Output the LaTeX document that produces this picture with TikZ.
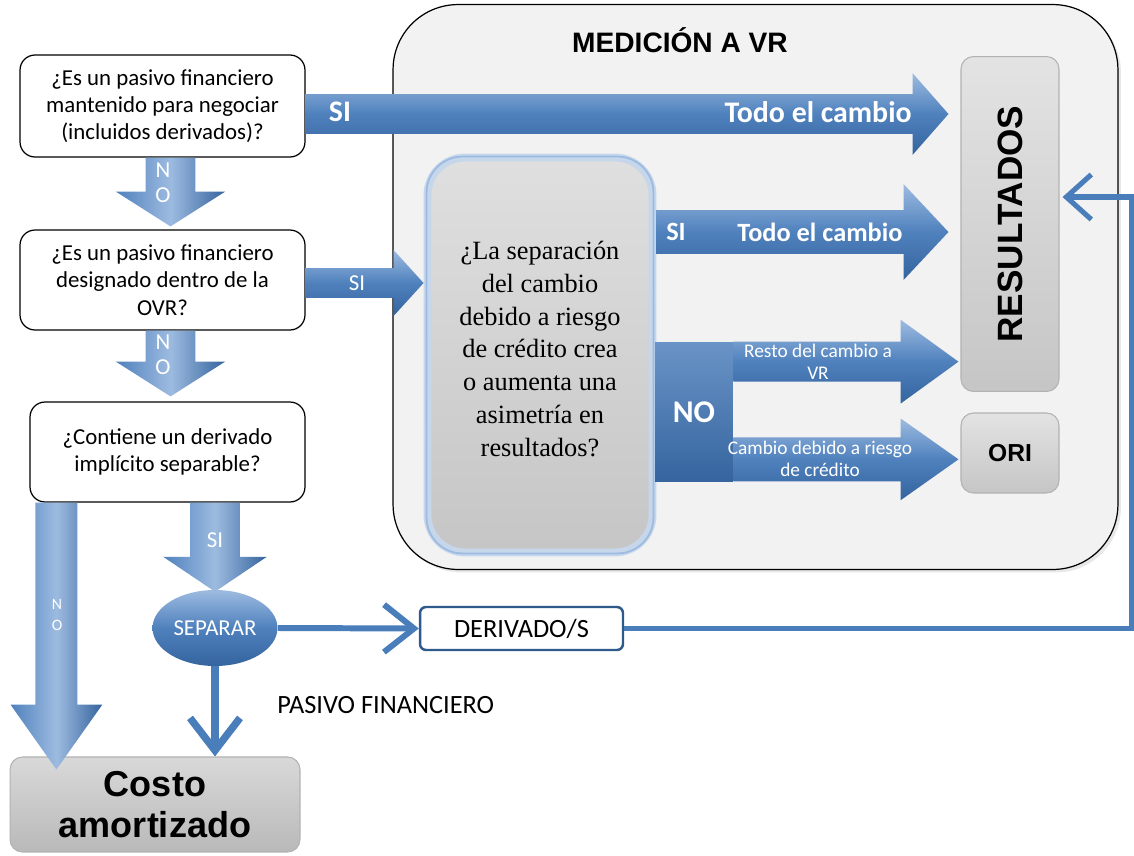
\documentclass[tikz,border=0pt]{standalone}
\usepackage{fontspec}
\setmainfont{Carlito}
\newfontfamily\arialf{Liberation Sans}
\newfontfamily\serifq{Liberation Serif}
\usetikzlibrary{arrows.meta,calc,shapes.geometric,shadows}

\definecolor{bMid}{HTML}{4F81BD}
\definecolor{bLight}{HTML}{9DBBE0}
\definecolor{bDark}{HTML}{35649E}
\definecolor{bLine}{HTML}{4A7EBB}
\definecolor{contFill}{HTML}{F2F2F2}
\definecolor{glowC}{HTML}{C6D7EC}
\definecolor{derBorder}{HTML}{2F5A8C}

\def\pxu{0.5669pt}

\tikzset{
  hshade/.style={top color=bLight, bottom color=bDark, middle color=bMid},
  vshade/.style={left color=bMid, right color=bDark, middle color=bLight},
  qbox/.style={draw=black, line width=0.7pt, fill=white, rounded corners=0.3cm,
    align=center, font=\fontsize{13}{15.5}\selectfont, inner sep=0pt},
  graybox/.style={draw=gray!60, line width=0.6pt, rounded corners=0.25cm,
    top color=gray!22, bottom color=gray!45, inner sep=0pt},
  wlabel/.style={text=white, font=\fontsize{13}{15}\selectfont, inner sep=0pt},
  wbold/.style={text=white, font=\bfseries\fontsize{17}{20}\selectfont, inner sep=0pt},
  wsmall/.style={text=white, font=\fontsize{11}{12.5}\selectfont, align=center, inner sep=0pt},
  chev/.style={draw=bLine, line width=3.4pt},
}

\newcommand{\HBlock}[5]{%
  \path[hshade] let \p1=(#1), \p2=(#2) in
    (\x1,\y1+#3*\pxu) -- (\x2-#5*\pxu,\y1+#3*\pxu) -- (\x2-#5*\pxu,\y1+#4*\pxu)
    -- (\x2,\y1) -- (\x2-#5*\pxu,\y1-#4*\pxu) -- (\x2-#5*\pxu,\y1-#3*\pxu)
    -- (\x1,\y1-#3*\pxu) -- cycle;}
\newcommand{\VBlock}[5]{%
  \path[vshade] let \p1=(#1), \p2=(#2) in
    (\x1-#3*\pxu,\y1) -- (\x1-#3*\pxu,\y2+#5*\pxu) -- (\x1-#4*\pxu,\y2+#5*\pxu)
    -- (\x1,\y2) -- (\x1+#4*\pxu,\y2+#5*\pxu) -- (\x1+#3*\pxu,\y2+#5*\pxu)
    -- (\x1+#3*\pxu,\y1) -- cycle;}

\begin{document}
\begin{tikzpicture}[x=0.02cm,y=-0.02cm]
\useasboundingbox[fill=white] (0,0) rectangle (1134,856);

% container
\node[draw=black, line width=0.7pt, fill=contFill, rounded corners=1.3cm,
  drop shadow={opacity=0.18, shadow xshift=0.06cm, shadow yshift=-0.06cm},
  minimum width=14.5cm, minimum height=11.3cm, inner sep=0pt] (cont) at (755.5,287) {};
\node[font=\arialf\bfseries\fontsize{16}{19}\selectfont, inner sep=0pt] (title) at (680,40) {MEDICIÓN A VR};

% left question boxes
\node[qbox, minimum width=5.7cm, minimum height=2.04cm] (b1) at (162.5,106)
  {¿Es un pasivo financiero\\mantenido para negociar\\(incluidos derivados)?};
\node[qbox, minimum width=5.7cm, minimum height=2.0cm] (b2) at (162.5,280)
  {¿Es un pasivo financiero\\designado dentro de la\\OVR?};
\node[qbox, minimum width=5.5cm, minimum height=2.0cm] (b3) at (167.5,452)
  {¿Contiene un derivado\\implícito separable?};

% central question
\node[draw=glowC, line width=4.5pt, rounded corners=0.75cm, minimum width=4.5cm, minimum height=7.9cm,
  top color=gray!25, bottom color=gray!45, inner sep=0pt] (q) at (540,355) {};
\draw[bLight, line width=1pt, rounded corners=0.72cm] ($(q.north west)+(3,3)$) rectangle ($(q.south east)+(-3,-3)$);
\node[font=\serifq\fontsize{15}{18.7}\selectfont, align=center, inner sep=0pt] (qt) at (540,349)
  {¿La separación\\del cambio\\debido a riesgo\\de crédito crea\\o aumenta una\\asimetría en\\resultados?};

% result boxes
\node[graybox, minimum width=1.96cm, minimum height=6.7cm] (res) at (1010,224) {};
\node[rotate=90, font=\arialf\bfseries\fontsize{20}{24}\selectfont, inner sep=0pt] (reslbl) at (res) {RESULTADOS};
\node[graybox, minimum width=1.96cm, minimum height=1.6cm, font=\arialf\bfseries\fontsize{14}{16}\selectfont] (ori) at (1010,453) {ORI};

% NO block
\node[top color=bMid!85!white, bottom color=bDark, minimum width=1.56cm, minimum height=2.8cm, inner sep=0pt] (nob) at (694,412) {};

% block arrows
\HBlock{$(b1.east)+(0,8)$}{$(res.west|-b1.east)+(-12,8)$}{20}{41}{36}
\HBlock{$(b2.east)+(0,3)$}{$(q.west|-b2.east)+(0,3)$}{15}{33}{30}
\HBlock{$(q.east)+(0,-123)$}{$(res.west)+(-12,9)$}{22}{48}{45}
\HBlock{$(nob.north east)+(0,20)$}{$(res.west|-nob.north east)+(-2,20)$}{20}{42}{58}
\HBlock{$(nob.south east)+(0,-23)$}{$(ori.west|-nob.south east)+(-2,-23)$}{22}{41}{58}
\VBlock{$(b1.south)+(8,0)$}{$(b2.north)+(8,-3)$}{25}{55}{35}
\VBlock{$(b2.south)+(8,0)$}{$(b3.north)+(3,-5)$}{25}{55}{35}

% NO text
\node[text=white, font=\bfseries\fontsize{18}{20}\selectfont, inner sep=0pt] (notext) at (nob) {NO};

% labels on arrows
\node[wbold] (si1) at (340,112) {SI};
\node[wbold, anchor=east] (todo1) at (912,112) {Todo el cambio};
\node[wlabel] (si2) at (357,283) {SI};
\node[wbold, font=\bfseries\fontsize{15}{18}\selectfont] (si3) at (676,232) {SI};
\node[wbold, font=\bfseries\fontsize{15}{18}\selectfont] (todo2) at (820,232) {Todo el cambio};
\node[wsmall] (resto) at (818,362) {Resto del cambio a\\VR};
\node[wsmall] (camb) at (820,459) {Cambio debido a riesgo\\de crédito};
\node[wlabel, align=center, font=\fontsize{13}{14}\selectfont] (no1) at (163,183) {N\\O};
\node[wlabel, align=center, font=\fontsize{13}{14}\selectfont] (no2) at (163,355) {N\\O};

% bottom section
\node[ellipse, minimum width=2.5cm, minimum height=1.52cm, inner sep=0pt,
  top color=bLight, bottom color=bDark, middle color=bMid,
  text=white, font=\fontsize{13}{15}\selectfont] (sep) at (215,628) {SEPARAR};
\node[draw=derBorder, line width=1.4pt, fill=white, rounded corners=0.12cm,
  minimum width=4.06cm, minimum height=0.86cm, inner sep=0pt,
  font=\fontsize{15}{18}\selectfont] (der) at (521.5,628.5) {DERIVADO/S};
\node[graybox, minimum width=5.8cm, minimum height=1.9cm, align=center,
  top color=gray!30, bottom color=gray!55,
  font=\arialf\bfseries\fontsize{20.5}{23.5}\selectfont] (costo) at (155,804.5) {Costo\\amortizado};

\VBlock{$(b3.south west)+(27,0)$}{$(costo.north west)+(47,13)$}{21}{46}{65}
\VBlock{$(b3.south -| sep.north)$}{$(sep.north)+(0,2)$}{25}{52}{35}
\node[wlabel] (si4) at (215,540) {SI};
\node[wlabel, align=center, font=\fontsize{9}{12}\selectfont] (no3) at (57,615) {N\\O};

% line connectors
\draw[chev, -{Straight Barb[length=6mm,width=9.5mm]}] (sep.east) -- (der.west);
\draw[chev, line width=4.2pt, -{Straight Barb[length=6.5mm,width=10mm]}] (sep.south) -- (sep.south |- costo.north);
\node[font=\fontsize{15}{18}\selectfont, anchor=west, inner sep=0pt] (pasivo) at (277,705) {PASIVO FINANCIERO};
\coordinate (loopc) at ($(res.east)+(72,-27)$);
\draw[chev, line width=2.9pt, -{Straight Barb[length=5mm,width=9mm]}]
  (der.east) -| (loopc) -- ($(res.east)+(3,-27)$);
\end{tikzpicture}
\end{document}
